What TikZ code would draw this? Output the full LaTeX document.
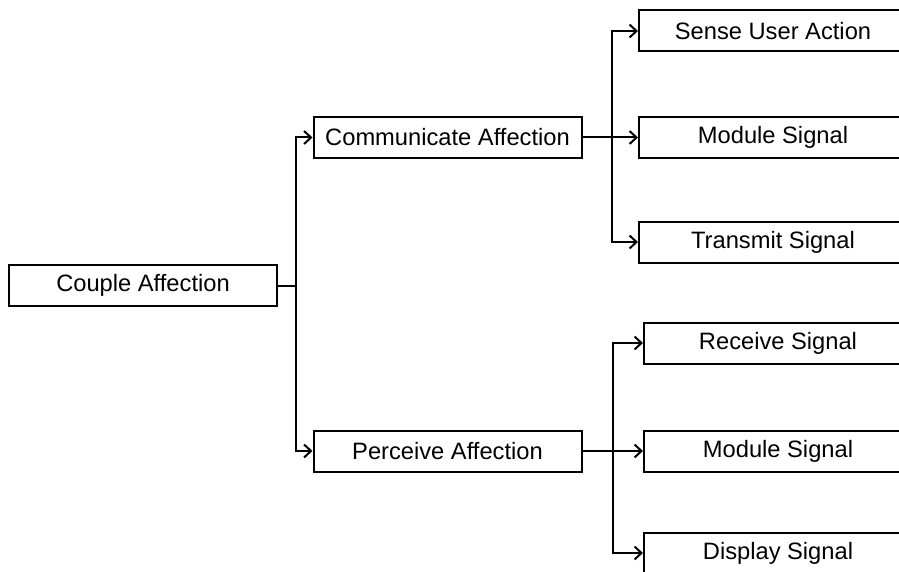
\documentclass[tikz,border=0pt]{standalone}
\usepackage{fontspec}
\setmainfont{Liberation Sans}
\usetikzlibrary{arrows.meta}
\begin{document}
\begin{tikzpicture}[x=1pt,y=-1pt,
  box/.style={draw,line width=2pt,minimum width=268pt,minimum height=41pt,
    inner sep=0pt,font=\fontsize{23.7}{28}\selectfont},
  link/.style={line width=2pt},
  arr/.style={link,-{Straight Barb[length=7pt,width=13pt,line width=2pt]}}]
\useasboundingbox (0,0) rectangle (899,572);
\fill[white] (0,0) rectangle (899,572);
\clip (0,0) rectangle (899,572);

% top level and second level
\node[box] (couple) at (143,285.5) {Couple Affection};
\node[box] (comm) at (447.5,137.5) {Communicate Affection};
\node[box] (perc) at (447.5,451) {Perceive Affection};

% leaves of the communicate branch
\node[box,anchor=west] (sense) at (638,31) {Sense User Action};
\node[box,anchor=west] (modA) at (638,137.5) {Module Signal};
\node[box,anchor=west] (trans) at (638,242) {Transmit Signal};

% leaves of the perceive branch
\node[box,anchor=west] (recv) at (643,343) {Receive Signal};
\node[box,anchor=west] (modB) at (643,451) {Module Signal};
\node[box,anchor=west] (disp) at (643,553) {Display Signal};

% connectors
\draw[arr] (couple.east) -- ++(18,0) |- (comm.west);
\draw[arr] (couple.east) -- ++(18,0) |- (perc.west);

\draw[arr] (comm.east) -- ++(29,0) |- (sense.west);
\draw[arr] (comm.east) -- (modA.west);
\draw[arr] (comm.east) -- ++(29,0) |- (trans.west);

\draw[arr] (perc.east) -- ++(30,0) |- (recv.west);
\draw[arr] (perc.east) -- (modB.west);
\draw[arr] (perc.east) -- ++(30,0) |- (disp.west);
\end{tikzpicture}
\end{document}
